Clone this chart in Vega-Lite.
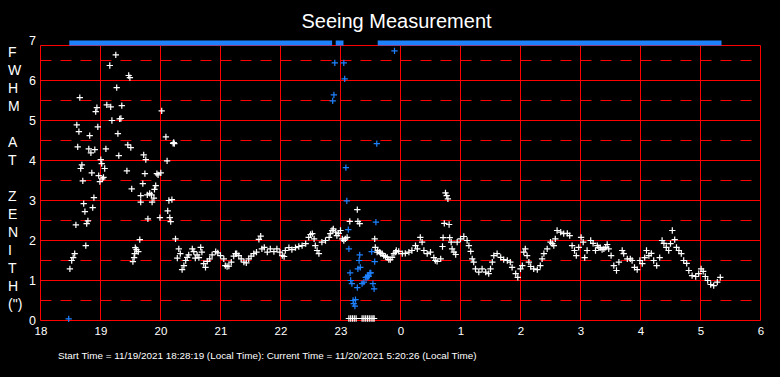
{
  "$schema": "https://vega.github.io/schema/vega-lite/v6.json",
  "width": 720,
  "height": 280,
  "autosize": {"type": "none"},
  "padding": {"left": 40.5, "top": 40.5, "right": 19.5, "bottom": 56.5},
  "background": "black",
  "config": {
    "view": {"stroke": null},
    "font": "Liberation Sans",
    "axisX": {
      "grid": false, "domain": false, "ticks": false,
      "labelColor": "white", "labelFont": "Liberation Sans", "labelFontSize": 11.5, "labelPadding": 5,
      "labelFlush": false, "labelOverlap": false, "labelBound": false,
      "titleColor": "white", "titleFont": "Liberation Sans", "titleFontSize": 9.9, "titleFontWeight": "normal",
      "titleAnchor": "start", "titleAlign": "left", "titleX": 17, "titleY": 35, "titleBaseline": "middle"
    },
    "axisY": {
      "grid": false, "domain": false, "ticks": false,
      "labelColor": "white", "labelFont": "Liberation Sans", "labelFontSize": 12.5, "labelPadding": 5,
      "labelFlush": false, "labelOverlap": false, "labelBound": false,
      "titleAngle": 0, "titleColor": "white", "titleFont": "Liberation Sans", "titleFontSize": 14, "titleFontWeight": "normal",
      "titleLineHeight": 18, "titleX": -33, "titleY": 12, "titleAlign": "left", "titleBaseline": "middle"
    }
  },
  "title": {"text": "Seeing Measurement", "color": "white", "fontSize": 20, "fontWeight": "normal", "font": "Liberation Sans", "anchor": "middle", "offset": 3, "dx": -4},
  "datasets": {
    "vgrid": [{"h":18},{"h":19},{"h":20},{"h":21},{"h":22},{"h":23},{"h":24},{"h":25},{"h":26},{"h":27},{"h":28},{"h":29},{"h":30}],
    "hgrid": [{"v":0},{"v":1},{"v":2},{"v":3},{"v":4},{"v":5},{"v":6},{"v":6.875}],
    "hdash": [{"v":0.5},{"v":1.5},{"v":2.5},{"v":3.5},{"v":4.5},{"v":5.5},{"v":6.5}],
    "bar": [{"s":18.48,"e":22.86},{"s":22.92,"e":23.05},{"s":23.62,"e":29.35}],
    "pts": [
      {"h":18.49,"v":1.29,"c":"w"},{"h":18.52,"v":1.5,"c":"w"},{"h":18.545,"v":1.57,"c":"w"},{"h":18.57,"v":1.67,"c":"w"},{"h":18.59,"v":2.39,"c":"w"},
      {"h":18.605,"v":4.89,"c":"w"},{"h":18.62,"v":4.34,"c":"w"},{"h":18.64,"v":4.72,"c":"w"},{"h":18.655,"v":5.57,"c":"w"},{"h":18.67,"v":3.8,"c":"w"},
      {"h":18.69,"v":3.89,"c":"w"},{"h":18.705,"v":3.49,"c":"w"},{"h":18.72,"v":2.92,"c":"w"},{"h":18.74,"v":2.72,"c":"w"},{"h":18.755,"v":1.87,"c":"w"},
      {"h":18.77,"v":2.42,"c":"w"},{"h":18.79,"v":2.49,"c":"w"},{"h":18.805,"v":4.29,"c":"w"},{"h":18.82,"v":4.62,"c":"w"},{"h":18.84,"v":4.19,"c":"w"},
      {"h":18.855,"v":3.69,"c":"w"},{"h":18.87,"v":2.82,"c":"w"},{"h":18.89,"v":3.07,"c":"w"},{"h":18.905,"v":4.27,"c":"w"},{"h":18.92,"v":5.22,"c":"w"},
      {"h":18.94,"v":5.32,"c":"w"},{"h":18.955,"v":4.84,"c":"w"},{"h":18.97,"v":3.62,"c":"w"},{"h":18.99,"v":3.47,"c":"w"},{"h":19.005,"v":4.02,"c":"w"},
      {"h":19.02,"v":3.92,"c":"w"},{"h":19.03,"v":3.54,"c":"w"},{"h":19.05,"v":3.58,"c":"w"},{"h":19.07,"v":3.8,"c":"w"},{"h":19.09,"v":4.29,"c":"w"},
      {"h":19.105,"v":5.39,"c":"w"},{"h":19.155,"v":6.375,"c":"w"},{"h":19.17,"v":5.34,"c":"w"},{"h":19.19,"v":5.0,"c":"w"},{"h":19.255,"v":6.64,"c":"w"},
      {"h":19.27,"v":5.82,"c":"w"},{"h":19.29,"v":4.67,"c":"w"},{"h":19.305,"v":4.12,"c":"w"},{"h":19.32,"v":5.04,"c":"w"},{"h":19.34,"v":5.05,"c":"w"},
      {"h":19.355,"v":5.37,"c":"w"},{"h":19.44,"v":3.74,"c":"w"},{"h":19.455,"v":4.39,"c":"w"},{"h":19.47,"v":6.125,"c":"w"},{"h":19.49,"v":6.07,"c":"w"},
      {"h":19.505,"v":4.32,"c":"w"},{"h":19.52,"v":3.29,"c":"w"},{"h":19.54,"v":1.47,"c":"w"},{"h":19.56,"v":1.57,"c":"w"},{"h":19.57,"v":1.67,"c":"w"},
      {"h":19.58,"v":1.82,"c":"w"},{"h":19.6,"v":1.77,"c":"w"},{"h":19.63,"v":1.72,"c":"w"},{"h":19.655,"v":2.02,"c":"w"},{"h":19.67,"v":3.12,"c":"w"},
      {"h":19.67,"v":2.96,"c":"w"},{"h":19.705,"v":3.42,"c":"w"},{"h":19.72,"v":4.14,"c":"w"},{"h":19.74,"v":3.67,"c":"w"},{"h":19.755,"v":4.02,"c":"w"},
      {"h":19.78,"v":3.14,"c":"w"},{"h":19.79,"v":2.54,"c":"w"},{"h":19.82,"v":3.18,"c":"w"},{"h":19.85,"v":3.14,"c":"w"},{"h":19.86,"v":2.96,"c":"w"},
      {"h":19.89,"v":3.06,"c":"w"},{"h":19.9,"v":3.28,"c":"w"},{"h":19.92,"v":3.37,"c":"w"},{"h":19.94,"v":3.67,"c":"w"},{"h":19.96,"v":3.64,"c":"w"},
      {"h":19.99,"v":2.57,"c":"w"},{"h":20.005,"v":3.69,"c":"w"},{"h":20.02,"v":5.24,"c":"w"},{"h":20.09,"v":4.59,"c":"w"},{"h":20.11,"v":3.99,"c":"w"},
      {"h":20.12,"v":2.74,"c":"w"},{"h":20.14,"v":3.0,"c":"w"},{"h":20.155,"v":2.57,"c":"w"},{"h":20.17,"v":2.47,"c":"w"},{"h":20.19,"v":3.02,"c":"w"},
      {"h":20.21,"v":4.43,"c":"w"},{"h":20.22,"v":4.45,"c":"w"},{"h":20.23,"v":4.42,"c":"w"},{"h":20.25,"v":2.04,"c":"w"},
      {"h":20.28,"v":1.56,"c":"w"},{"h":20.305,"v":1.79,"c":"w"},{"h":20.33,"v":1.67,"c":"w"},{"h":20.36,"v":1.27,"c":"w"},{"h":20.39,"v":1.37,"c":"w"},
      {"h":20.42,"v":1.5,"c":"w"},{"h":20.445,"v":1.58,"c":"w"},{"h":20.47,"v":1.64,"c":"w"},{"h":20.53,"v":1.79,"c":"w"},{"h":20.555,"v":1.72,"c":"w"},
      {"h":20.58,"v":1.56,"c":"w"},{"h":20.61,"v":1.64,"c":"w"},{"h":20.64,"v":1.57,"c":"w"},{"h":20.67,"v":1.83,"c":"w"},{"h":20.69,"v":1.71,"c":"w"},
      {"h":20.72,"v":1.42,"c":"w"},{"h":20.75,"v":1.33,"c":"w"},{"h":20.78,"v":1.48,"c":"w"},{"h":20.82,"v":1.54,"c":"w"},{"h":20.86,"v":1.64,"c":"w"},
      {"h":20.92,"v":1.72,"c":"w"},{"h":20.955,"v":1.69,"c":"w"},{"h":21.0,"v":1.62,"c":"w"},{"h":21.055,"v":1.54,"c":"w"},{"h":21.08,"v":1.37,"c":"w"},
      {"h":21.11,"v":1.35,"c":"w"},{"h":21.14,"v":1.36,"c":"w"},{"h":21.18,"v":1.46,"c":"w"},{"h":21.22,"v":1.61,"c":"w"},{"h":21.25,"v":1.67,"c":"w"},
      {"h":21.27,"v":1.67,"c":"w"},{"h":21.305,"v":1.62,"c":"w"},{"h":21.345,"v":1.54,"c":"w"},{"h":21.39,"v":1.46,"c":"w"},{"h":21.43,"v":1.44,"c":"w"},
      {"h":21.47,"v":1.54,"c":"w"},{"h":21.51,"v":1.61,"c":"w"},{"h":21.555,"v":1.67,"c":"w"},{"h":21.6,"v":1.71,"c":"w"},{"h":21.64,"v":2.03,"c":"w"},
      {"h":21.67,"v":2.11,"c":"w"},{"h":21.69,"v":1.79,"c":"w"},{"h":21.73,"v":1.83,"c":"w"},{"h":21.78,"v":1.71,"c":"w"},{"h":21.83,"v":1.79,"c":"w"},
      {"h":21.89,"v":1.72,"c":"w"},{"h":21.94,"v":1.79,"c":"w"},{"h":21.99,"v":1.71,"c":"w"},{"h":22.03,"v":1.62,"c":"w"},{"h":22.06,"v":1.6,"c":"w"},
      {"h":22.08,"v":1.75,"c":"w"},{"h":22.14,"v":1.82,"c":"w"},{"h":22.19,"v":1.77,"c":"w"},{"h":22.25,"v":1.82,"c":"w"},{"h":22.305,"v":1.85,"c":"w"},
      {"h":22.36,"v":1.87,"c":"w"},{"h":22.42,"v":1.92,"c":"w"},{"h":22.47,"v":2.08,"c":"w"},{"h":22.5,"v":2.15,"c":"w"},{"h":22.53,"v":2.17,"c":"w"},
      {"h":22.56,"v":2.04,"c":"w"},{"h":22.58,"v":1.87,"c":"w"},{"h":22.61,"v":1.75,"c":"w"},{"h":22.64,"v":1.67,"c":"w"},{"h":22.69,"v":1.96,"c":"w"},
      {"h":22.75,"v":2.0,"c":"w"},{"h":22.81,"v":2.08,"c":"w"},{"h":22.83,"v":2.17,"c":"w"},{"h":22.86,"v":2.25,"c":"w"},{"h":22.88,"v":2.29,"c":"w"},
      {"h":22.92,"v":2.21,"c":"w"},{"h":22.94,"v":2.12,"c":"w"},{"h":22.97,"v":2.18,"c":"w"},{"h":23.0,"v":2.25,"c":"w"},{"h":23.03,"v":2.04,"c":"w"},
      {"h":23.055,"v":2.0,"c":"w"},{"h":23.08,"v":2.04,"c":"w"},{"h":23.11,"v":2.08,"c":"w"},
      {"h":23.155,"v":2.48,"c":"w"},{"h":23.28,"v":2.77,"c":"w"},{"h":23.29,"v":2.48,"c":"w"},{"h":23.32,"v":2.42,"c":"w"},{"h":23.57,"v":2.04,"c":"w"},{"h":23.58,"v":1.83,"c":"w"},
      {"h":23.14,"v":0.05,"c":"w"},{"h":23.17,"v":0.05,"c":"w"},{"h":23.2,"v":0.05,"c":"w"},{"h":23.23,"v":0.05,"c":"w"},{"h":23.26,"v":0.05,"c":"w"},
      {"h":23.36,"v":0.05,"c":"w"},{"h":23.39,"v":0.05,"c":"w"},{"h":23.42,"v":0.05,"c":"w"},{"h":23.45,"v":0.05,"c":"w"},{"h":23.48,"v":0.05,"c":"w"},
      {"h":23.51,"v":0.05,"c":"w"},{"h":23.54,"v":0.05,"c":"w"},{"h":23.56,"v":0.05,"c":"w"},
      {"h":23.61,"v":1.71,"c":"w"},{"h":23.62,"v":1.75,"c":"w"},{"h":23.655,"v":1.71,"c":"w"},{"h":23.67,"v":1.67,"c":"w"},{"h":23.695,"v":1.67,"c":"w"},
      {"h":23.72,"v":1.62,"c":"w"},{"h":23.75,"v":1.6,"c":"w"},{"h":23.78,"v":1.58,"c":"w"},{"h":23.805,"v":1.52,"c":"w"},{"h":23.83,"v":1.52,"c":"w"},
      {"h":23.86,"v":1.58,"c":"w"},{"h":23.89,"v":1.67,"c":"w"},{"h":23.92,"v":1.71,"c":"w"},{"h":23.93,"v":1.75,"c":"w"},{"h":23.97,"v":1.73,"c":"w"},
      {"h":24.03,"v":1.67,"c":"w"},{"h":24.08,"v":1.68,"c":"w"},{"h":24.14,"v":1.71,"c":"w"},{"h":24.19,"v":1.75,"c":"w"},{"h":24.25,"v":1.87,"c":"w"},
      {"h":24.28,"v":1.79,"c":"w"},{"h":24.33,"v":2.08,"c":"w"},{"h":24.36,"v":1.96,"c":"w"},{"h":24.39,"v":1.75,"c":"w"},{"h":24.445,"v":1.67,"c":"w"},
      {"h":24.5,"v":1.71,"c":"w"},{"h":24.555,"v":1.57,"c":"w"},{"h":24.58,"v":1.5,"c":"w"},{"h":24.61,"v":1.48,"c":"w"},{"h":24.67,"v":1.54,"c":"w"},
      {"h":24.7,"v":1.85,"c":"w"},{"h":24.71,"v":2.07,"c":"w"},{"h":24.73,"v":2.43,"c":"w"},{"h":24.75,"v":3.19,"c":"w"},{"h":24.77,"v":3.12,"c":"w"},
      {"h":24.79,"v":3.04,"c":"w"},{"h":24.81,"v":2.4,"c":"w"},{"h":24.82,"v":2.07,"c":"w"},{"h":24.845,"v":1.96,"c":"w"},{"h":24.86,"v":1.79,"c":"w"},
      {"h":24.89,"v":1.71,"c":"w"},{"h":24.92,"v":1.65,"c":"w"},{"h":24.945,"v":1.96,"c":"w"},{"h":25.0,"v":2.04,"c":"w"},{"h":25.055,"v":2.1,"c":"w"},
      {"h":25.11,"v":2.0,"c":"w"},{"h":25.14,"v":1.87,"c":"w"},{"h":25.17,"v":1.73,"c":"w"},{"h":25.195,"v":1.54,"c":"w"},{"h":25.22,"v":1.46,"c":"w"},
      {"h":25.25,"v":1.29,"c":"w"},{"h":25.305,"v":1.21,"c":"w"},{"h":25.36,"v":1.29,"c":"w"},{"h":25.42,"v":1.21,"c":"w"},{"h":25.47,"v":1.17,"c":"w"},
      {"h":25.5,"v":1.29,"c":"w"},{"h":25.53,"v":1.46,"c":"w"},{"h":25.555,"v":1.62,"c":"w"},{"h":25.61,"v":1.67,"c":"w"},{"h":25.67,"v":1.58,"c":"w"},
      {"h":25.72,"v":1.52,"c":"w"},{"h":25.78,"v":1.5,"c":"w"},{"h":25.83,"v":1.46,"c":"w"},{"h":25.86,"v":1.33,"c":"w"},{"h":25.92,"v":1.17,"c":"w"},
      {"h":25.955,"v":1.08,"c":"w"},{"h":26.0,"v":1.29,"c":"w"},{"h":26.03,"v":1.37,"c":"w"},{"h":26.055,"v":1.71,"c":"w"},{"h":26.08,"v":1.79,"c":"w"},
      {"h":26.11,"v":1.62,"c":"w"},{"h":26.14,"v":1.46,"c":"w"},{"h":26.17,"v":1.35,"c":"w"},{"h":26.22,"v":1.29,"c":"w"},{"h":26.28,"v":1.27,"c":"w"},
      {"h":26.33,"v":1.37,"c":"w"},{"h":26.36,"v":1.54,"c":"w"},{"h":26.39,"v":1.67,"c":"w"},{"h":26.445,"v":1.79,"c":"w"},{"h":26.5,"v":1.96,"c":"w"},
      {"h":26.53,"v":1.92,"c":"w"},{"h":26.555,"v":1.87,"c":"w"},{"h":26.58,"v":2.04,"c":"w"},{"h":26.61,"v":2.25,"c":"w"},{"h":26.67,"v":2.21,"c":"w"},
      {"h":26.72,"v":2.17,"c":"w"},{"h":26.78,"v":2.18,"c":"w"},{"h":26.82,"v":2.12,"c":"w"},{"h":26.86,"v":1.87,"c":"w"},{"h":26.9,"v":1.75,"c":"w"},
      {"h":26.93,"v":1.62,"c":"w"},{"h":26.97,"v":1.83,"c":"w"},{"h":27.01,"v":2.08,"c":"w"},{"h":27.045,"v":1.96,"c":"w"},{"h":27.07,"v":1.57,"c":"w"},
      {"h":27.11,"v":1.75,"c":"w"},{"h":27.17,"v":2.0,"c":"w"},{"h":27.21,"v":1.93,"c":"w"},{"h":27.25,"v":1.75,"c":"w"},{"h":27.28,"v":1.87,"c":"w"},
      {"h":27.305,"v":1.82,"c":"w"},{"h":27.33,"v":1.82,"c":"w"},{"h":27.36,"v":1.77,"c":"w"},{"h":27.39,"v":1.79,"c":"w"},{"h":27.42,"v":1.83,"c":"w"},
      {"h":27.445,"v":1.9,"c":"w"},{"h":27.47,"v":1.79,"c":"w"},{"h":27.51,"v":1.62,"c":"w"},{"h":27.555,"v":1.37,"c":"w"},{"h":27.6,"v":1.25,"c":"w"},
      {"h":27.64,"v":1.46,"c":"w"},{"h":27.695,"v":1.75,"c":"w"},{"h":27.72,"v":1.67,"c":"w"},{"h":27.78,"v":1.54,"c":"w"},{"h":27.83,"v":1.54,"c":"w"},
      {"h":27.86,"v":1.5,"c":"w"},{"h":27.9,"v":1.33,"c":"w"},{"h":27.945,"v":1.27,"c":"w"},{"h":27.99,"v":1.5,"c":"w"},{"h":28.03,"v":1.42,"c":"w"},
      {"h":28.07,"v":1.57,"c":"w"},{"h":28.1,"v":1.75,"c":"w"},{"h":28.14,"v":1.62,"c":"w"},{"h":28.18,"v":1.68,"c":"w"},{"h":28.22,"v":1.5,"c":"w"},
      {"h":28.27,"v":1.37,"c":"w"},{"h":28.32,"v":1.57,"c":"w"},{"h":28.36,"v":2.0,"c":"w"},{"h":28.39,"v":1.93,"c":"w"},{"h":28.43,"v":1.83,"c":"w"},
      {"h":28.47,"v":1.75,"c":"w"},{"h":28.5,"v":1.92,"c":"w"},{"h":28.53,"v":2.25,"c":"w"},{"h":28.57,"v":2.02,"c":"w"},{"h":28.6,"v":1.83,"c":"w"},
      {"h":28.64,"v":1.75,"c":"w"},{"h":28.68,"v":1.67,"c":"w"},{"h":28.72,"v":1.5,"c":"w"},{"h":28.77,"v":1.43,"c":"w"},{"h":28.805,"v":1.25,"c":"w"},
      {"h":28.86,"v":1.12,"c":"w"},{"h":28.92,"v":1.1,"c":"w"},{"h":28.97,"v":1.17,"c":"w"},{"h":29.01,"v":1.29,"c":"w"},{"h":29.045,"v":1.23,"c":"w"},
      {"h":29.08,"v":1.1,"c":"w"},{"h":29.12,"v":1.0,"c":"w"},{"h":29.17,"v":0.9,"c":"w"},{"h":29.22,"v":0.87,"c":"w"},{"h":29.28,"v":0.96,"c":"w"},
      {"h":29.33,"v":1.08,"c":"w"},
      {"h":18.47,"v":0.04,"c":"b"},{"h":22.87,"v":5.49,"c":"b"},{"h":22.89,"v":5.64,"c":"b"},{"h":22.905,"v":6.44,"c":"b"},{"h":23.055,"v":6.44,"c":"b"},
      {"h":23.07,"v":6.04,"c":"b"},{"h":23.09,"v":3.82,"c":"b"},{"h":23.105,"v":2.99,"c":"b"},{"h":23.13,"v":2.27,"c":"b"},{"h":23.14,"v":1.79,"c":"b"},
      {"h":23.16,"v":1.19,"c":"b"},{"h":23.17,"v":1.0,"c":"b"},{"h":23.19,"v":0.92,"c":"b"},{"h":23.21,"v":0.5,"c":"b"},{"h":23.22,"v":0.42,"c":"b"},
      {"h":23.24,"v":0.36,"c":"b"},{"h":23.25,"v":0.52,"c":"b"},{"h":23.28,"v":0.82,"c":"b"},{"h":23.29,"v":1.29,"c":"b"},{"h":23.31,"v":1.5,"c":"b"},
      {"h":23.32,"v":1.64,"c":"b"},{"h":23.33,"v":1.33,"c":"b"},{"h":23.36,"v":0.92,"c":"b"},{"h":23.39,"v":0.96,"c":"b"},{"h":23.42,"v":1.08,"c":"b"},
      {"h":23.44,"v":1.07,"c":"b"},{"h":23.45,"v":1.1,"c":"b"},{"h":23.46,"v":1.13,"c":"b"},{"h":23.47,"v":1.1,"c":"b"},{"h":23.49,"v":1.19,"c":"b"},
      {"h":23.505,"v":1.19,"c":"b"},{"h":23.52,"v":1.72,"c":"b"},{"h":23.54,"v":0.92,"c":"b"},{"h":23.56,"v":0.79,"c":"b"},{"h":23.57,"v":1.47,"c":"b"},
      {"h":23.59,"v":2.46,"c":"b"},{"h":23.605,"v":4.42,"c":"b"},{"h":23.9,"v":6.74,"c":"b"}
    ]
  },
  "layer": [
    {
      "data": {"name": "vgrid"},
      "mark": {"type": "rule", "color": "#ff0000", "strokeWidth": 1},
      "encoding": {
        "x": {"field": "h", "type": "quantitative", "scale": {"domain": [18, 30], "nice": false, "zero": false},
              "axis": {"values": [18, 19, 20, 21, 22, 23, 24, 25, 26, 27, 28, 29, 30], "labelExpr": "'' + (datum.value % 24)", "title": "Start Time = 11/19/2021 18:28:19 (Local Time): Current Time = 11/20/2021 5:20:26 (Local Time)"}},
        "y": {"datum": 0, "type": "quantitative", "scale": {"domain": [0, 7], "nice": false, "zero": false},
              "axis": {"values": [0, 1, 2, 3, 4, 5, 6, 7], "title": ["F", "W", "H", "M", "\u2800", "A", "T", "\u2800", "Z", "E", "N", "I", "T", "H", "(\")"]}},
        "y2": {"datum": 6.875}
      }
    },
    {
      "data": {"name": "hgrid"},
      "mark": {"type": "rule", "color": "#ff0000", "strokeWidth": 1},
      "encoding": {
        "y": {"field": "v", "type": "quantitative", "scale": {"domain": [0, 7], "nice": false, "zero": false},
              "axis": {"values": [0, 1, 2, 3, 4, 5, 6, 7], "title": ["F", "W", "H", "M", "\u2800", "A", "T", "\u2800", "Z", "E", "N", "I", "T", "H", "(\")"]}},
        "x": {"datum": 18, "type": "quantitative", "scale": {"domain": [18, 30], "nice": false, "zero": false},
              "axis": {"values": [18, 19, 20, 21, 22, 23, 24, 25, 26, 27, 28, 29, 30], "labelExpr": "'' + (datum.value % 24)", "title": "Start Time = 11/19/2021 18:28:19 (Local Time): Current Time = 11/20/2021 5:20:26 (Local Time)"}},
        "x2": {"datum": 30}
      }
    },
    {
      "data": {"name": "hdash"},
      "mark": {"type": "rule", "color": "#ff0000", "strokeWidth": 1, "strokeDash": [11, 9]},
      "encoding": {
        "y": {"field": "v", "type": "quantitative", "scale": {"domain": [0, 7], "nice": false, "zero": false},
              "axis": {"values": [0, 1, 2, 3, 4, 5, 6, 7], "title": ["F", "W", "H", "M", "\u2800", "A", "T", "\u2800", "Z", "E", "N", "I", "T", "H", "(\")"]}},
        "x": {"datum": 18, "type": "quantitative", "scale": {"domain": [18, 30], "nice": false, "zero": false},
              "axis": {"values": [18, 19, 20, 21, 22, 23, 24, 25, 26, 27, 28, 29, 30], "labelExpr": "'' + (datum.value % 24)", "title": "Start Time = 11/19/2021 18:28:19 (Local Time): Current Time = 11/20/2021 5:20:26 (Local Time)"}},
        "x2": {"datum": 30}
      }
    },
    {
      "data": {"name": "bar"},
      "mark": {"type": "rule", "color": "#1e82ff", "strokeWidth": 5, "strokeCap": "butt"},
      "encoding": {
        "x": {"field": "s", "type": "quantitative", "scale": {"domain": [18, 30], "nice": false, "zero": false},
              "axis": {"values": [18, 19, 20, 21, 22, 23, 24, 25, 26, 27, 28, 29, 30], "labelExpr": "'' + (datum.value % 24)", "title": "Start Time = 11/19/2021 18:28:19 (Local Time): Current Time = 11/20/2021 5:20:26 (Local Time)"}},
        "x2": {"field": "e"},
        "y": {"datum": 6.9375, "type": "quantitative", "scale": {"domain": [0, 7], "nice": false, "zero": false},
              "axis": {"values": [0, 1, 2, 3, 4, 5, 6, 7], "title": ["F", "W", "H", "M", "\u2800", "A", "T", "\u2800", "Z", "E", "N", "I", "T", "H", "(\")"]}}
      }
    },
    {
      "data": {"name": "pts"},
      "mark": {"type": "point", "shape": "M-1,0L1,0M0,-1L0,1", "filled": false, "size": 40, "strokeWidth": 1.2, "opacity": 1},
      "encoding": {
        "x": {"field": "h", "type": "quantitative", "scale": {"domain": [18, 30], "nice": false, "zero": false},
              "axis": {"values": [18, 19, 20, 21, 22, 23, 24, 25, 26, 27, 28, 29, 30], "labelExpr": "'' + (datum.value % 24)", "title": "Start Time = 11/19/2021 18:28:19 (Local Time): Current Time = 11/20/2021 5:20:26 (Local Time)"}},
        "y": {"field": "v", "type": "quantitative", "scale": {"domain": [0, 7], "nice": false, "zero": false},
              "axis": {"values": [0, 1, 2, 3, 4, 5, 6, 7], "title": ["F", "W", "H", "M", "\u2800", "A", "T", "\u2800", "Z", "E", "N", "I", "T", "H", "(\")"]}},
        "color": {"field": "c", "type": "nominal", "scale": {"domain": ["w", "b"], "range": ["#ffffff", "#1e82ff"]}, "legend": null}
      }
    }
  ]
}
